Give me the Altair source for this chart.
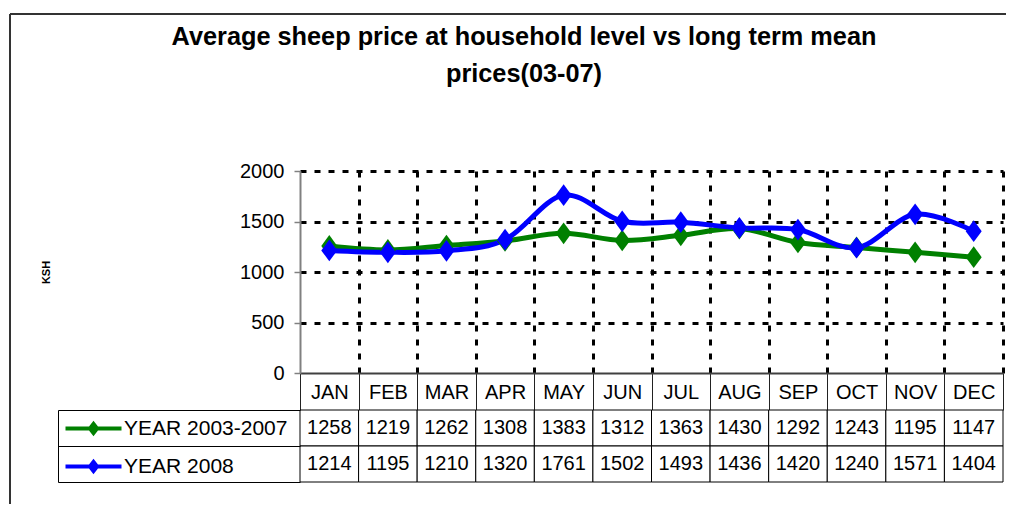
import altair as alt
import pandas as pd

# ---------------- data ----------------
months = ["JAN", "FEB", "MAR", "APR", "MAY", "JUN", "JUL", "AUG", "SEP", "OCT", "NOV", "DEC"]
series_names = ["YEAR 2003-2007", "YEAR 2008"]
mean_03_07 = [1258, 1219, 1262, 1308, 1383, 1312, 1363, 1430, 1292, 1243, 1195, 1147]
year_2008 = [1214, 1195, 1210, 1320, 1761, 1502, 1493, 1436, 1420, 1240, 1571, 1404]
series_colors = ["#008000", "#0000FF"]
y_ticks = [0, 500, 1000, 1500, 2000]
title_lines = ["Average sheep price at household level vs long term mean", "prices(03-07)"]
y_title = "KSH"

rows = []
for name, vals in zip(series_names, [mean_03_07, year_2008]):
    for m, v in zip(months, vals):
        rows.append({"series": name, "month": m, "value": v})
df = pd.DataFrame(rows)
one = pd.DataFrame({"k": [0]})

# ---------------- style ----------------
FONT = "Liberation Sans"
W, H = 703, 202
TABLE_H = 72
HEADER_H = 37
LEGEND_COL = 242
DIAMOND = "M0,-1.18 L0.87,0 L0,1.18 L-0.87,0 Z"
LEGEND_SYMBOL = "M-4,0 L4,0 M0,-0.64 L0.5,0 L0,0.64 L-0.5,0 Z"

band = alt.Scale(type="band", paddingInner=0, paddingOuter=0)

x_top = alt.X(
    "month:N", sort=months, scale=band,
    axis=alt.Axis(
        title=None, orient="bottom", tickBand="extent", tickSize=HEADER_H,
        tickColor="#222222", tickWidth=1, domainColor="#404040", domainWidth=2,
        labelFontSize=20, labelFont=FONT, labelColor="black", labelAngle=0,
        labelPadding=-18, labelBaseline="middle",
        grid=True, gridDash=[6, 8], gridWidth=3,
        gridColor={"condition": {"test": "datum.extra", "value": "transparent"}, "value": "black"},
    ),
)
y_top = alt.Y(
    "value:Q", scale=alt.Scale(domain=[0, 2000], nice=False),
    axis=alt.Axis(
        values=y_ticks, format="d", title=y_title, titleFontSize=11, titleFontWeight="bold",
        titleFont=FONT, titleColor="black", titleAngle=-90, titleX=-254, titleY=101,
        titleAlign="center", titleBaseline="middle",
        labelFontSize=20, labelFont=FONT, labelColor="black", labelPadding=10,
        tickSize=6, tickColor="#808080", tickWidth=1.5,
        domainColor="#808080", domainWidth=2,
        grid=True, gridDash=[6, 8], gridWidth=3,
        gridColor={"condition": {"test": "datum.value === 0", "value": "transparent"}, "value": "black"},
    ),
)
color_scale = alt.Scale(domain=series_names, range=series_colors)

lines = alt.Chart(df).mark_line(strokeWidth=5, interpolate="cardinal").encode(
    x=x_top, y=y_top,
    color=alt.Color(
        "series:N", sort=series_names, scale=color_scale,
        legend=alt.Legend(
            title=None, orient="none", legendX=-217, legendY=247, direction="vertical",
            symbolType=LEGEND_SYMBOL, symbolSize=196, symbolStrokeWidth=4,
            labelFontSize=21, labelFont=FONT, labelColor="black", labelOffset=20,
            labelLimit=400, rowPadding=13, padding=0,
        ),
    ),
)
points = alt.Chart(df).mark_point(filled=True, shape=DIAMOND, size=339, opacity=1, strokeWidth=0).encode(
    x=x_top, y=y_top,
    color=alt.Color("series:N", sort=series_names, scale=color_scale, legend=None),
)

top = alt.layer(lines, points).properties(
    width=W, height=H,
    title=alt.TitleParams(
        title_lines, fontSize=25.3, font=FONT, fontWeight="bold", color="black",
        anchor="middle", dx=-127.5, lineHeight=37, offset=74,
    ),
)

# ---------------- data table ----------------
x_tab = alt.X("month:N", sort=months, scale=band, axis=None)
cells = alt.Chart(df).mark_rect(fill="white", stroke="black", strokeWidth=1).encode(
    x=x_tab,
    y=alt.Y("series:N", sort=series_names, scale=band, axis=alt.Axis(
        title=None, orient="left", labels=False, domain=False, grid=False,
        tickBand="extent", tickSize=LEGEND_COL, tickColor="black", tickWidth=1)),
)
texts = alt.Chart(df).mark_text(fontSize=20, font=FONT, color="black").encode(
    x=x_tab,
    y=alt.Y("series:N", sort=series_names, scale=band, axis=alt.Axis(
        title=None, orient="left", labels=False, ticks=False, grid=False,
        domain=True, domainColor="black", domainWidth=1, offset=LEGEND_COL)),
    text=alt.Text("value:Q", format="d"),
)
# outer chart frame (top and left edges)
frame_top = alt.Chart(one).mark_rule(color="#333333", strokeWidth=2).encode(
    x=alt.value(-290), x2=alt.value(706), y=alt.value(-396)
)
frame_left = alt.Chart(one).mark_rule(color="#333333", strokeWidth=2).encode(
    x=alt.value(-290), y=alt.value(-396), y2=alt.value(94)
)
table = alt.layer(cells, texts, frame_top, frame_left).resolve_scale(y="independent").properties(
    width=W, height=TABLE_H
)

chart = alt.vconcat(
    top, table, spacing=HEADER_H, bounds="flush",
    padding={"left": 1, "top": 5, "right": 0, "bottom": 0},
).configure(font=FONT).configure_view(stroke=None)

chart.save("out.html", embed_options={"renderer": "svg", "actions": False})
